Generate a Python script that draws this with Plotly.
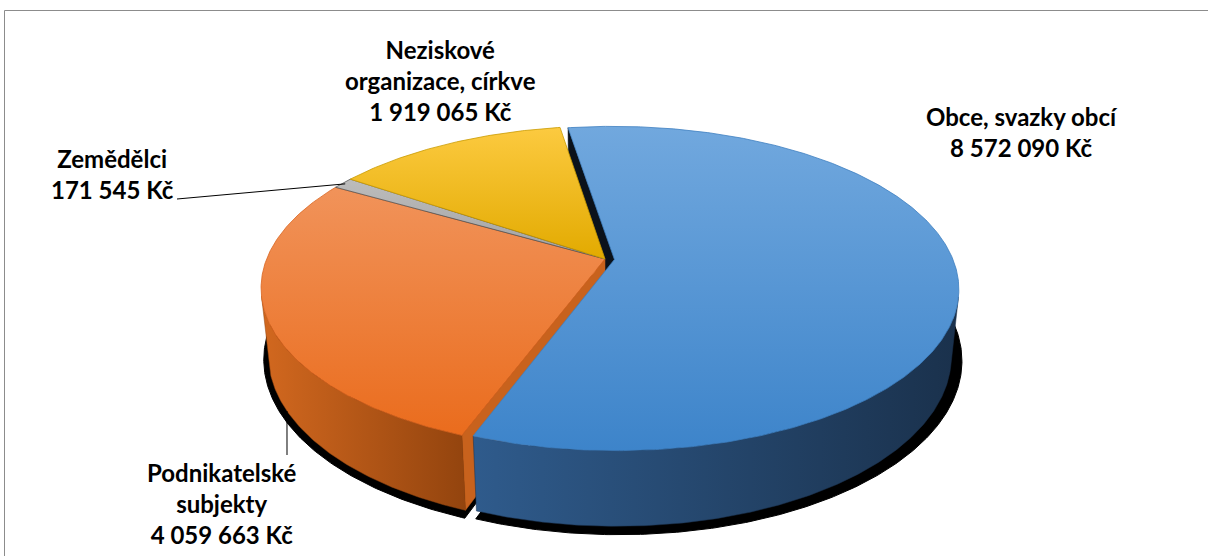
import numpy as np
import plotly.graph_objects as go

# ---------------- data ----------------
categories = ["Obce, svazky obcí", "Podnikatelské subjekty", "Zemědělci", "Neziskové organizace, církve"]
values = [8572090, 4059663, 171545, 1919065]
value_labels = ["8 572 090 Kč", "4 059 663 Kč", "171 545 Kč", "1 919 065 Kč"]
label_lines = [["Obce, svazky obcí"], ["Podnikatelské", "subjekty"], ["Zemědělci"], ["Neziskové", "organizace, církve"]]

# ---------------- style ----------------
top_colors = [("#71a8de", "#3d84ca"), ("#f1935a", "#ea6c1d"), ("#bcbcbc", "#a2a2a2"), ("#fcca40", "#e2aa00")]
wall_colors = [("#2f5b8c", "#1a314c"), ("#d2681f", "#93440e"), ("#8a8a8a", "#6a6a6a"), ("#c99a00", "#a67f00")]
face_colors = ["#0b121b", "#c8621d", "#5a5a5a", "#6b5200"]
edge_colors = ["#3d7fc0", "#d9651f", "#555555", "#c99a00"]
explode = [0.028, 0.0, 0.0, 0.0]
start_deg = -9.0

CX, CY = 605.0, 259.0
FOC, DIST = 1675.0, 4.95
ALPHA = np.radians(27.6)
THICK = 0.226
ca, sa = np.cos(ALPHA), np.sin(ALPHA)
CAM = np.array([0.0, DIST * sa, -DIST * ca])


def proj(x, y, z):
    x = np.asarray(x, float); y = np.asarray(y, float); z = np.asarray(z, float)
    X = x
    Y = y * ca + z * sa
    W = DIST + z * ca - y * sa
    return CX + FOC * X / W, CY - FOC * Y / W


vals = np.array(values, float)
spans = vals / vals.sum() * 360.0
a0s = start_deg + np.concatenate([[0], np.cumsum(spans)[:-1]])
a1s = a0s + spans
N = len(values)

fig = go.Figure()


def poly(xs, ys, fill, line=None, lw=0, grad=None):
    xs = list(xs) + [xs[0]]
    ys = list(ys) + [ys[0]]
    kw = dict(x=xs, y=ys, mode="lines", fill="toself", hoverinfo="skip", showlegend=False,
              line=dict(color=line or fill, width=lw))
    if grad is not None:
        typ, c0, c1 = grad
        if typ == "vertical":
            s, e = min(ys), max(ys)
        else:
            s, e = min(xs), max(xs)
        kw["fillgradient"] = dict(type=typ, colorscale=[[0, c0], [1, c1]], start=s, stop=e)
    else:
        kw["fillcolor"] = fill
    fig.add_trace(go.Scatter(**kw))


def offs(i):
    mid = np.radians((a0s[i] + a1s[i]) / 2)
    return explode[i] * np.sin(mid), explode[i] * np.cos(mid)


def arc(i, lo, hi, y, r=1.0, n=None):
    n = n or max(4, int(abs(hi - lo) * 2))
    t = np.radians(np.linspace(lo, hi, n))
    ox, oz = offs(i)
    return proj(ox + r * np.sin(t), np.full_like(t, y), oz + r * np.cos(t))


# shadow (bottom discs, slightly spread and offset)
for i in range(N):
    ox, oz = offs(i)
    bx, by = arc(i, a0s[i], a1s[i], -THICK, r=1.022)
    cx, cy = proj(ox, -THICK, oz)
    poly([float(cx) + 3] + list(bx + 3), [float(cy) + 3] + list(by + 3), "#000000", lw=1)

# radial faces (only where a slice is pulled away from its neighbour; back-face culled)
for i in range(N):
    ox, oz = offs(i)
    for ang, sgn, nb in ((a0s[i], -1, (i - 1) % N), (a1s[i], 1, (i + 1) % N)):
        if explode[i] == 0 and explode[nb] == 0:
            continue
        t = np.radians(ang)
        n = sgn * np.array([np.cos(t), 0.0, -np.sin(t)])
        p = np.array([ox + 0.5 * np.sin(t), -THICK / 2, oz + 0.5 * np.cos(t)])
        if n @ (CAM - p) <= 0:
            continue
        xs3 = [ox, ox + np.sin(t), ox + np.sin(t), ox]
        ys3 = [0, 0, -THICK, -THICK]
        zs3 = [oz, oz + np.cos(t), oz + np.cos(t), oz]
        px, py = proj(xs3, ys3, zs3)
        poly(px, py, face_colors[i], lw=0.5)

# outer walls (visible front part)
th_r = np.degrees(np.arccos(-1.0 / (DIST * ca)))
th_l = 360.0 - th_r
for i in range(N):
    for sh in (-360.0, 0.0, 360.0):
        lo = max(a0s[i], th_r + sh)
        hi = min(a1s[i], th_l + sh)
        if hi - lo <= 0.05:
            continue
        tx, ty = arc(i, lo, hi, 0.0)
        bx, by = arc(i, lo, hi, -THICK)
        poly(list(tx) + list(bx[::-1]), list(ty) + list(by[::-1]), wall_colors[i][0], lw=0.5,
             line=wall_colors[i][1], grad=("horizontal", wall_colors[i][0], wall_colors[i][1]))

# top faces
for i in range(N):
    ox, oz = offs(i)
    tx, ty = arc(i, a0s[i], a1s[i], 0.0)
    cx, cy = proj(ox, 0.0, oz)
    poly([float(cx)] + list(tx), [float(cy)] + list(ty), top_colors[i][0], line=edge_colors[i], lw=0.8,
         grad=("vertical", top_colors[i][0], top_colors[i][1]))

# ---------------- labels ----------------
label_pos = [(1022, 132, "center"), (222, 503, "center"), (112, 174, "center"), (440, 80, "center")]
for i in range(N):
    lx, ly, al = label_pos[i]
    txt = "<br>".join(label_lines[i] + [value_labels[i]])
    fig.add_annotation(x=lx, y=ly, xref="x", yref="y", text=txt, showarrow=False, align=al,
                       font=dict(family="Lato", size=24, color="#000000", weight="bold"))

# leader line for Zemědělci (to gray slice outer edge)
gi = 2
gm = np.radians((a0s[gi] + a1s[gi]) / 2)
gx, gy = proj(0.99 * np.sin(gm), 0.0, 0.99 * np.cos(gm))
fig.add_trace(go.Scatter(x=[177, float(gx)], y=[199, float(gy)], mode="lines",
                         line=dict(color="#000000", width=1), hoverinfo="skip", showlegend=False))

# leader line for Podnikatelské (to orange wall bottom)
oi = 1
bx, by = arc(oi, max(a0s[oi], th_r), min(a1s[oi], th_l), -THICK, n=400)
k = int(np.argmin(np.abs(bx - 287)))
fig.add_trace(go.Scatter(x=[287, float(bx[k])], y=[455, float(by[k])], mode="lines",
                         line=dict(color="#000000", width=1), hoverinfo="skip", showlegend=False))

fig.add_shape(type="rect", xref="x", yref="y", x0=4.5, y0=10.5, x1=1230, y1=600,
              line=dict(color="#8c8c8c", width=1), layer="below")

fig.update_layout(
    width=1208, height=556, margin=dict(l=0, r=0, t=0, b=0),
    paper_bgcolor="#ffffff", plot_bgcolor="#ffffff",
    xaxis=dict(range=[0, 1208], visible=False, fixedrange=True),
    yaxis=dict(range=[556, 0], visible=False, fixedrange=True),
    showlegend=False,
)
fig.write_html("out.html", config={"displayModeBar": False},
               post_script="document.body.style.margin='0px';document.body.style.overflow='hidden';")
